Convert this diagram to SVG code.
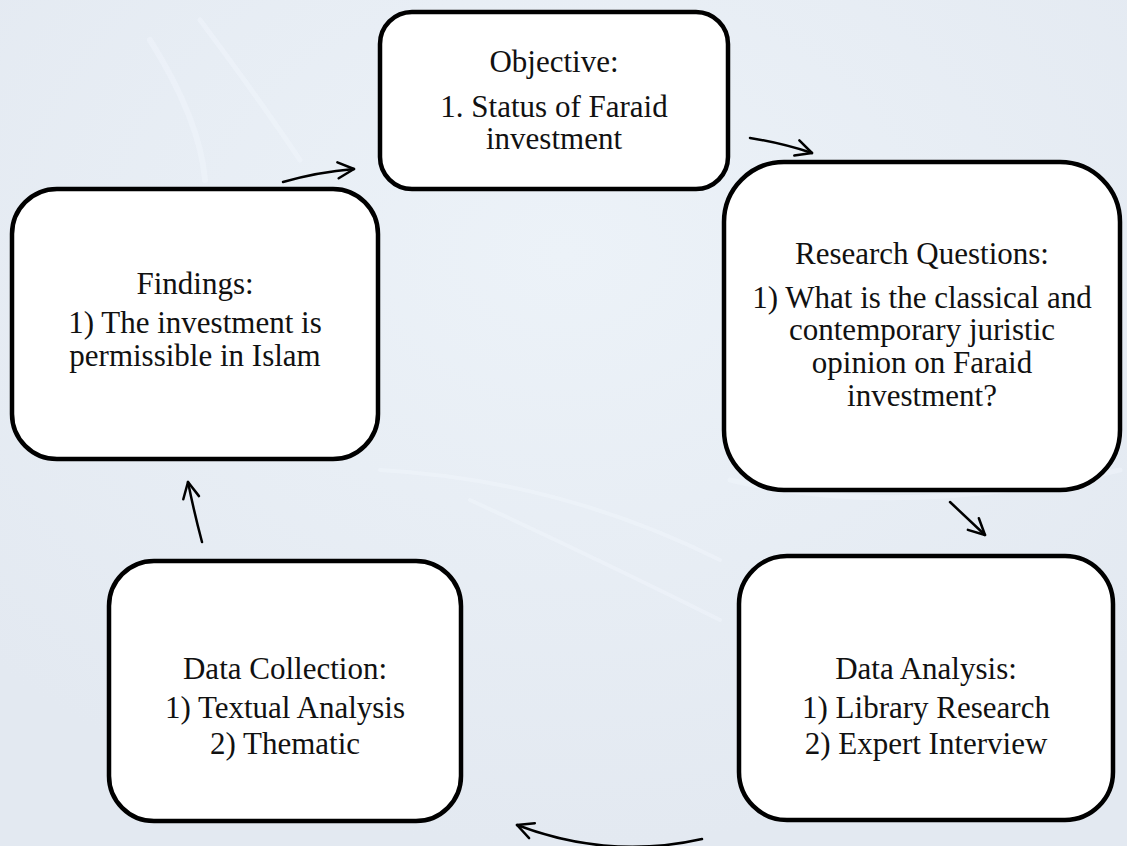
<svg xmlns="http://www.w3.org/2000/svg" width="1127" height="846" viewBox="0 0 1127 846">
<defs>
<style>
.node{fill:#ffffff;stroke:#000000;stroke-width:4.5}
.c{fill:none;stroke:#000;stroke-width:2.5;stroke-linecap:round}
.bg{fill:none;stroke:#f2f7fc;stroke-linecap:round;opacity:0.45}
</style>
<marker id="ah" viewBox="0 0 20 20" refX="18" refY="10" markerWidth="20" markerHeight="20" markerUnits="userSpaceOnUse" orient="auto">
<path d="M2,2 L18,10 L2,18" fill="none" stroke="#000" stroke-width="2.5" stroke-linecap="round" stroke-linejoin="round"/>
</marker>
<radialGradient id="g1" cx="0.5" cy="0.3" r="0.7">
<stop offset="0" stop-color="#ecf2f8"/>
<stop offset="1" stop-color="#e3e9f1"/>
</radialGradient>
</defs>
<rect width="1127" height="846" fill="url(#g1)"/>
<g id="background">
<path class="bg" stroke-width="6" d="M150,40 Q200,120 205,180"/>
<path class="bg" stroke-width="5" d="M200,20 Q260,100 300,160"/>
<path class="bg" stroke-width="5" d="M730,480 Q900,520 1120,470"/>
<path class="bg" stroke-width="4" d="M470,500 Q600,560 720,620"/>
<path class="bg" stroke-width="4" d="M380,470 Q560,480 720,560"/>
</g>
<g id="connectors">
<path class="c" marker-end="url(#ah)" d="M283,182 Q318,172 354,169"/>
<path class="c" marker-end="url(#ah)" d="M750,138 Q782,143 812,153"/>
<path class="c" marker-end="url(#ah)" d="M950,502 Q967,518 985,535"/>
<path class="c" marker-end="url(#ah)" d="M702,839 Q609,860 517,825"/>
<path class="c" marker-end="url(#ah)" d="M202,542 Q194,512 188,482"/>
</g>
<g font-family="'Liberation Serif','Times New Roman',Tinos,serif" font-size="31" fill="#111" text-anchor="middle">
<g id="objective">
<rect class="node" x="380" y="12" width="348" height="177" rx="32"/>
<text x="554" y="72">Objective:</text>
<text x="554" y="117">1. Status of Faraid</text>
<text x="554" y="149">investment</text>
</g>
<g id="research-questions">
<rect class="node" x="724" y="162" width="396" height="328" rx="60"/>
<text x="922" y="264">Research Questions:</text>
<text x="922" y="308">1) What is the classical and</text>
<text x="922" y="340">contemporary juristic</text>
<text x="922" y="373">opinion on Faraid</text>
<text x="922" y="406">investment?</text>
</g>
<g id="data-analysis">
<rect class="node" x="739" y="556" width="374" height="264" rx="48"/>
<text x="926" y="679">Data Analysis:</text>
<text x="926" y="718">1) Library Research</text>
<text x="926" y="754">2) Expert Interview</text>
</g>
<g id="data-collection">
<rect class="node" x="109" y="561" width="352" height="260" rx="45"/>
<text x="285" y="679">Data Collection:</text>
<text x="285" y="718">1) Textual Analysis</text>
<text x="285" y="754">2) Thematic</text>
</g>
<g id="findings">
<rect class="node" x="12" y="189" width="366" height="270" rx="45"/>
<text x="195" y="294">Findings:</text>
<text x="195" y="333">1) The investment is</text>
<text x="195" y="366">permissible in Islam</text>
</g>
</g>
</svg>
